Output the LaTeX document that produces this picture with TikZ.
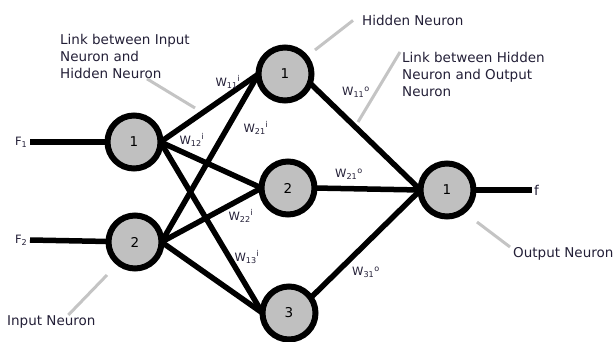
\documentclass[tikz,border=0pt]{standalone}
\usepackage{fontspec}
\setmainfont{DejaVu Sans}

\definecolor{ink}{RGB}{35,31,55}
\definecolor{cellgray}{RGB}{192,192,192}
\definecolor{ptrgray}{RGB}{196,196,196}

\tikzset{
  neuron/.style={circle,draw=black,fill=cellgray,line width=6pt,minimum size=53pt,
    inner sep=0pt,outer sep=0pt,font=\fontsize{13.5}{16}\selectfont},
  syn/.style={line width=5.5pt},
  ptr/.style={draw=ptrgray,line width=3pt},
  wlab/.style={inner sep=0pt,text=ink,font=\fontsize{11.5}{14}\selectfont},
  note/.style={inner sep=0pt,align=left,text=ink,font=\fontsize{13.5}{17}\selectfont},
}

\begin{document}
\begin{tikzpicture}[x=1pt,y=-1pt]
\useasboundingbox (0,0) rectangle (614,341);

\node[neuron] (i1) at (134,142) {1}; % ingressi
\node[neuron] (i2) at (135,242) {2};
\node[neuron] (h1) at (285,74) {1}; % nascosti
\node[neuron] (h2) at (288,188) {2};
\node[neuron] (h3) at (289,313) {3};
\node[neuron] (o1) at (447,190) {1}; % uscita

\node[wlab,anchor=east,inner sep=2.5pt] (F1) at (30,142) {F\textsubscript{1}};
\node[wlab,anchor=east,inner sep=2.5pt] (F2) at (30,240) {F\textsubscript{2}};
\node[wlab,anchor=west,inner sep=2pt,font=\fontsize{13.5}{16}\selectfont] (f) at (532,190) {f};

\draw[syn] (F1.east) -- (i1);
\draw[syn] (F2.east) -- (i2);
\draw[syn] (i1.east) -- (h1.west);
\draw[syn] (i1.east) -- (h2.west);
\draw[syn] (i1.east) -- (h3.west);
\draw[syn] (i2.east) -- (h1.west);
\draw[syn] (i2.east) -- (h2.west);
\draw[syn] (i2.east) -- (h3.west);
\draw[syn] (h1.-20) -- (o1.west);
\draw[syn] (h2.east) -- (o1.west);
\draw[syn] (h3.35) -- (o1.west);
\draw[syn] (o1) -- (f.west);

% pesi
\node[wlab] (w11i) at (228,82) {W\textsubscript{11}\textsuperscript{i}};
\node[wlab] (w21i) at (256,128) {W\textsubscript{21}\textsuperscript{i}};
\node[wlab] (w12i) at (192,140) {W\textsubscript{12}\textsuperscript{i}};
\node[wlab] (w22i) at (241,216) {W\textsubscript{22}\textsuperscript{i}};
\node[wlab] (w13i) at (247,257) {W\textsubscript{13}\textsuperscript{i}};
\node[wlab] (w11o) at (356,92) {W\textsubscript{11}\textsuperscript{o}};
\node[wlab] (w21o) at (349,174) {W\textsubscript{21}\textsuperscript{o}};
\node[wlab] (w31o) at (366,272) {W\textsubscript{31}\textsuperscript{o}};

% didascalie
\node[note,anchor=north west] (lblIH) at (60,34) {Link between Input\\Neuron and\\Hidden Neuron};
\node[note,anchor=north west] (lblHid) at (362,15) {Hidden Neuron};
\node[note,anchor=north west] (lblHO) at (402,52) {Link between Hidden\\Neuron and Output\\Neuron};
\node[note,anchor=north west] (lblOut) at (513,247) {Output Neuron};
\node[note,anchor=north west] (lblIn) at (7,315) {Input Neuron};

\coordinate (pIH) at (195,108);
\coordinate (pHid) at (315,50);
\coordinate (pHO) at (358,122);
\coordinate (pOut) at (477,222);
\coordinate (pIn) at (107,275);

\draw[ptr] ([xshift=22pt]lblIH.south) -- (pIH);
\draw[ptr] ([xshift=-9pt]lblHid.west) -- (pHid);
\draw[ptr] ([xshift=-2pt]lblHO.north west) -- (pHO);
\draw[ptr] ([xshift=-3pt]lblOut.north west) -- (pOut);
\draw[ptr] ([xshift=17pt]lblIn.north) -- (pIn);

\end{tikzpicture}
\end{document}
